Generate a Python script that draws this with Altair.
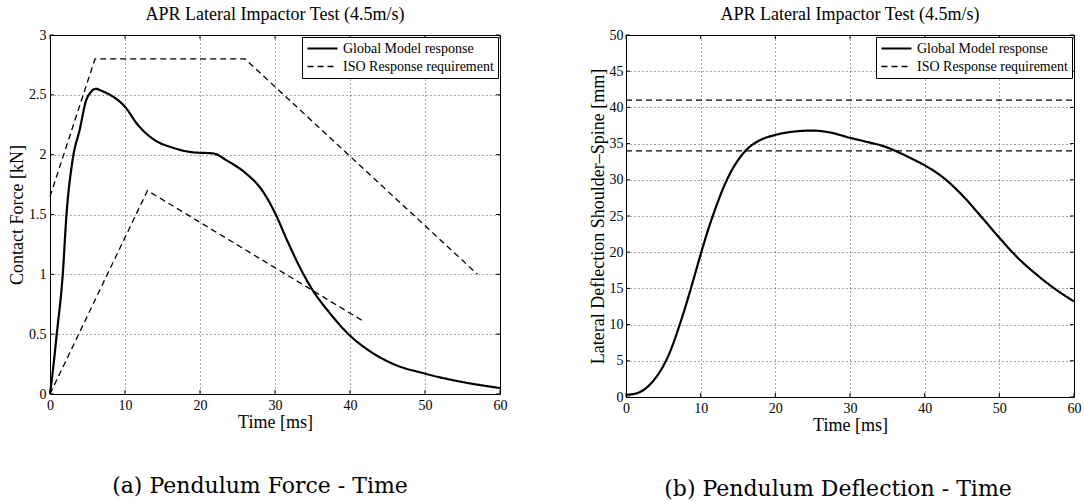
import altair as alt
import pandas as pd

SERIES = ["Global Model response", "ISO Response requirement"]

# ---- Panel (a): pendulum force vs time ----
force_time = [0, 0.3, 0.9, 1.7, 2.2, 3.0, 4.0, 4.8, 5.4, 6.1, 7.0, 8.0, 10.0, 11.7, 14.0, 16.3,
              19.0, 21.8, 23.6, 26.0, 28.3, 30.1, 31.5, 33.8, 35.1, 37.0, 39.8, 42.6, 45.8,
              50.0, 55.0, 60.0]
force_model = [0, 0.15, 0.5, 1.0, 1.5, 1.95, 2.22, 2.45, 2.52, 2.55, 2.53, 2.5, 2.4, 2.25, 2.12,
               2.06, 2.02, 2.01, 1.95, 1.85, 1.7, 1.5, 1.3, 1.0, 0.86, 0.7, 0.5, 0.36, 0.25,
               0.17, 0.1, 0.05]
iso_force_upper_time = [0, 6, 26, 57]
iso_force_upper = [1.65, 2.8, 2.8, 1.0]
iso_force_lower_time = [0, 13, 42]
iso_force_lower = [0.0, 1.7, 0.6]

# ---- Panel (b): pendulum deflection vs time ----
defl_time = [0, 1.2, 2.4, 3.7, 5, 6, 7, 8, 9, 10, 11, 12, 13, 14, 15, 16, 17, 18, 20, 22,
             25, 27, 30, 32, 34.9, 36.7, 38.5, 40, 42.5, 45, 47.5, 50, 52.5, 55, 57.5, 60]
defl_model = [0.3, 0.45, 1.0, 2.3, 4.3, 6.5, 9.4, 12.6, 16.1, 19.7, 23.1, 26.1, 28.8, 31.0,
              32.7, 34.0, 34.9, 35.5, 36.2, 36.6, 36.8, 36.6, 35.8, 35.3, 34.5, 33.7, 32.8,
              32.0, 30.3, 27.9, 25.0, 22.0, 19.2, 16.9, 14.9, 13.2]
iso_defl_time = [0, 60]
iso_defl_upper = [41, 41]
iso_defl_lower = [34, 34]

x_ticks = [0, 10, 20, 30, 40, 50, 60]
force_ticks = [0, 0.5, 1, 1.5, 2, 2.5, 3]
defl_ticks = [0, 5, 10, 15, 20, 25, 30, 35, 40, 45, 50]


def frame(t, v, series, seg):
    return pd.DataFrame({"t": t, "v": v, "series": series, "seg": seg})


force_model_df = frame(force_time, force_model, SERIES[0], "m")
force_iso_df = pd.concat([
    frame(iso_force_upper_time, iso_force_upper, SERIES[1], "u"),
    frame(iso_force_lower_time, iso_force_lower, SERIES[1], "l"),
])
defl_model_df = frame(defl_time, defl_model, SERIES[0], "m")
defl_iso_df = pd.concat([
    frame(iso_defl_time, iso_defl_upper, SERIES[1], "u"),
    frame(iso_defl_time, iso_defl_lower, SERIES[1], "l"),
])

SERIF = "Liberation Serif"


def panel(model_df, iso_df, ydomain, yticks, ytitle, title, caption, w, h, cap_dx,
          label_pad, title_pad):
    x = alt.X("t:Q", scale=alt.Scale(domain=[0, 60], nice=False),
              axis=alt.Axis(values=x_ticks, title="Time [ms]", labelPadding=4, titlePadding=1,
                            labelFlush=False, labelOverlap=False))
    y = alt.Y("v:Q", scale=alt.Scale(domain=ydomain, nice=False),
              axis=alt.Axis(values=yticks, format="~g", title=ytitle, labelPadding=label_pad,
                            titlePadding=title_pad, labelOverlap=False))
    leg = alt.Legend(title=None, orient="top-right", offset=2)
    dash = alt.StrokeDash("series:N", scale=alt.Scale(domain=SERIES, range=[[1, 0], [6, 4]]),
                          legend=leg)
    width = alt.StrokeWidth("series:N", scale=alt.Scale(domain=SERIES, range=[2.2, 1.3]),
                            legend=leg)
    model = alt.Chart(model_df).mark_line(color="black", interpolate="monotone").encode(
        x=x, y=y, strokeDash=dash, strokeWidth=width, detail="seg:N")
    iso = alt.Chart(iso_df).mark_line(color="black").encode(
        x=x, y=y, strokeDash=dash, strokeWidth=width, detail="seg:N")

    xt = pd.DataFrame({"t": x_ticks})
    yt = pd.DataFrame({"v": yticks})
    tick_b = alt.Chart(xt).mark_rule(color="black").encode(x=x, y=alt.value(h), y2=alt.value(h - 4))
    tick_t = alt.Chart(xt).mark_rule(color="black").encode(x=x, y=alt.value(0), y2=alt.value(4))
    tick_l = alt.Chart(yt).mark_rule(color="black").encode(y=y, x=alt.value(0), x2=alt.value(4))
    tick_r = alt.Chart(yt).mark_rule(color="black").encode(y=y, x=alt.value(w - 4), x2=alt.value(w))

    cap = alt.Chart(pd.DataFrame({"c": [caption]})).mark_text(
        font="DejaVu Serif", fontSize=22, color="black", align="center", baseline="middle"
    ).encode(text="c:N", x=alt.value(w / 2 + cap_dx), y=alt.value(h + 92))

    return alt.layer(model, iso, tick_b, tick_t, tick_l, tick_r, cap).properties(
        width=w, height=h,
        title=alt.TitleParams(text=title, font=SERIF, fontSize=18, fontWeight="normal",
                              color="black", frame="group", anchor="middle", offset=4),
    )


left = panel(force_model_df, force_iso_df, [0, 3], force_ticks, "Contact Force [kN]",
             "APR Lateral Impactor Test (4.5m/s)", "(a) Pendulum Force - Time",
             450, 359, -15, 4, 2)
right = panel(defl_model_df, defl_iso_df, [0, 50], defl_ticks,
              "Lateral Deflection Shoulder\u2013Spine [mm]",
              "APR Lateral Impactor Test (4.5m/s)", "(b) Pendulum Deflection - Time",
              448, 362, -12, 3, 2)

chart = alt.hconcat(left, right, spacing=126, bounds="flush").resolve_scale(
    x="independent", y="independent", strokeDash="independent", strokeWidth="independent"
).resolve_legend(strokeDash="independent", strokeWidth="independent").properties(
    padding={"left": 8, "top": 5, "right": 0, "bottom": 0}
).configure(background="white").configure_view(
    stroke="black", strokeWidth=1
).configure_axis(
    domain=False, ticks=False, grid=True, gridDash=[1, 3], gridColor="#000", gridOpacity=0.7,
    labelFont=SERIF, labelFontSize=14, labelColor="black",
    titleFont=SERIF, titleFontSize=18, titleFontWeight="normal", titleColor="black",
).configure_legend(
    symbolType="stroke", symbolSize=900, symbolStrokeColor="black", clipHeight=15,
    rowPadding=3, labelOffset=4, padding=4, strokeColor="black", fillColor="white",
    labelFont=SERIF, labelFontSize=14, labelColor="black", cornerRadius=0,
)

chart.save("out.html", embed_options={"renderer": "svg", "actions": False})
